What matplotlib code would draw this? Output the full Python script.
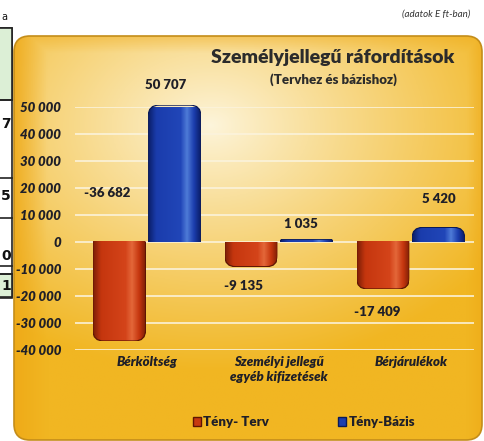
import numpy as np
import matplotlib
matplotlib.use("Agg")
import matplotlib.pyplot as plt
from matplotlib.patches import FancyBboxPatch, Rectangle, Patch
from matplotlib.colors import to_rgb, LinearSegmentedColormap

plt.rcParams['font.family'] = ['Lato', 'DejaVu Sans']

# data
categories = ['Bérköltség', 'Személyi jellegű\negyéb kifizetések', 'Bérjárulékok']
teny_terv = [-36682, -9135, -17409]
teny_bazis = [50707, 1035, 5420]
terv_labels = ['-36 682', '-9 135', '-17 409']
bazis_labels = ['50 707', '1 035', '5 420']
yticks = [-40000, -30000, -20000, -10000, 0, 10000, 20000, 30000, 40000, 50000]
ytick_labels = ['-40 000', '-30 000', '-20 000', '-10 000', '0', '10 000',
                '20 000', '30 000', '40 000', '50 000']
series_names = ['Tény- Terv', 'Tény-Bázis']

W, H = 484, 441
TXT = '#1f1f28'
fig = plt.figure(figsize=(W / 100, H / 100), dpi=100)

# background layer in pixel coordinates
bg = fig.add_axes([0, 0, 1, 1], zorder=0)
bg.set_xlim(0, W)
bg.set_ylim(H, 0)
bg.axis('off')

# left table fragment
bg.add_patch(Rectangle((-2, 28), 14, 270, facecolor='white', edgecolor='#222', lw=1.2))
for y0, y1 in [(28, 100), (274, 297)]:
    bg.add_patch(Rectangle((-2, y0), 14, y1 - y0, facecolor='#dcefd6', edgecolor='#222', lw=1.2))
for yl in [100, 178, 218, 266, 274]:
    bg.plot([-2, 12], [yl, yl], color='#222', lw=1.2)
for t, yy in [('7', 124), ('5', 196), ('0', 256), ('1', 286)]:
    bg.text(1, yy, t, fontsize=10, fontweight='bold', color='#111', va='center', ha='left',
            family='DejaVu Sans')
bg.text(1, 17, 'a', fontsize=7, color='#111', va='center', ha='left', family='DejaVu Sans')

# yellow panel with radial-ish gradient
px0, px1, py0, py1 = 14, 482, 36, 440
yy, xx = np.mgrid[0:1:220j, 0:1:220j]
pale = np.array(to_rgb('#fdf5dc'))
gold = np.array(to_rgb('#f1b622'))
d = np.sqrt(((xx - 0.42) / 1.0) ** 2 + ((yy - 0.22) / 0.85) ** 2)
t = np.clip(d / 0.72, 0, 1)[..., None] ** 0.9
img = pale * (1 - t) + gold * t
edge = np.array(to_rgb('#eea816'))
ew = np.clip(1 - xx / 0.07, 0, 1)[..., None] * 0.8 + np.clip(1 - (1 - xx) / 0.03, 0, 1)[..., None] * 0.5
ew = np.maximum(ew, np.clip(1 - yy / 0.04, 0, 1)[..., None] * 0.4)
img = img * (1 - ew) + edge * ew
panel = FancyBboxPatch((px0, py0), px1 - px0, py1 - py0,
                       boxstyle='round,pad=0,rounding_size=16',
                       facecolor='none', edgecolor='#c48d1a', lw=1.2, zorder=2)
bg.add_patch(panel)
im = bg.imshow(img, extent=(px0, px1, py1, py0), aspect='auto', zorder=1)
im.set_clip_path(panel)
bg.set_xlim(0, W)
bg.set_ylim(H, 0)

bg.text(470, 14, '(adatok E ft-ban)', fontsize=7, style='italic', color='#333',
        ha='right', va='center')
bg.text(333, 57, 'Személyjellegű ráfordítások', fontsize=14, fontweight='heavy',
        color='#2b2b2b', ha='center', va='center', zorder=3)
bg.text(333, 80, '(Tervhez és bázishoz)', fontsize=9.5, fontweight='heavy',
        color='#2b2b2b', ha='center', va='center', zorder=3)

# plot axes
ax_l, ax_r, ax_t, ax_b = 75, 474, 107, 350
ax = fig.add_axes([ax_l / W, 1 - ax_b / H, (ax_r - ax_l) / W, (ax_b - ax_t) / H], zorder=1)
ax.set_facecolor('none')
for s in ax.spines.values():
    s.set_visible(False)
xlim = (-0.545, 2.48)
ylim = (-40000, 50000)
ax.set_xlim(*xlim)
ax.set_ylim(*ylim)
ax.set_yticks(yticks)
ax.set_yticklabels(ytick_labels, fontsize=9.5, fontweight='heavy', style='italic', color=TXT)
ax.tick_params(axis='y', length=0, pad=10)
x = np.arange(len(categories))
ax.set_xticks(x)
ax.set_xticklabels(categories, fontsize=9.5, fontweight='heavy', style='italic',
                   color=TXT, linespacing=1.35)
ax.tick_params(axis='x', length=0, pad=4)
ax.grid(axis='y', color='#fbf3dc', lw=1.3, alpha=0.9)
ax.set_axisbelow(True)

bw = 0.40
b1 = ax.bar(x - 0.21, teny_terv, bw, color='#c73a10', alpha=0)
b2 = ax.bar(x + 0.21, teny_bazis, bw, color='#1c3fae', alpha=0)

tr = ax.transData
ppx = tr.transform((1, 0))[0] - tr.transform((0, 0))[0]
ppy = tr.transform((0, 1))[1] - tr.transform((0, 0))[1]


def cyl_cmap(dark, mid, light, hi):
    return LinearSegmentedColormap.from_list('c', [(0, dark), (0.15, mid), (0.62, light),
                                                   (0.74, hi), (0.88, mid), (1, dark)])


red_cmap = cyl_cmap('#7e1f06', '#c5360e', '#d4441a', '#e4683a')
blue_cmap = cyl_cmap('#0b1e68', '#1a3cac', '#2146b8', '#4f7cd8')


def round_bar(bar, cmap, edgec, r_px=11):
    x0, w = bar.get_x(), bar.get_width()
    y0, h = bar.get_y(), bar.get_height()
    lo, hi = min(y0, y0 + h), max(y0, y0 + h)
    hpx = abs(h) * ppy
    r = min(r_px, hpx, w * ppx / 2)
    rx, ry = r / ppx, r / ppy
    if h >= 0:
        box_y, box_h = lo - ry, (hi - lo) + ry
    else:
        box_y, box_h = lo, (hi - lo) + ry
    shape = FancyBboxPatch((x0, box_y), w, box_h,
                           boxstyle=f'round,pad=0,rounding_size={rx}',
                           mutation_aspect=ppx / ppy, transform=ax.transData)
    grad = np.linspace(0, 1, 64)[None, :]
    imb = ax.imshow(grad, cmap=cmap, extent=(x0, x0 + w, lo, hi), aspect='auto',
                    interpolation='bilinear', zorder=2)
    imb.set_clip_path(shape)
    outline = FancyBboxPatch((x0, box_y), w, box_h,
                             boxstyle=f'round,pad=0,rounding_size={rx}',
                             mutation_aspect=ppx / ppy, facecolor='none',
                             edgecolor=edgec, lw=0.9, zorder=3)
    ax.add_patch(outline)
    outline.set_clip_path(Rectangle((x0, lo), w, hi - lo, transform=ax.transData))


for b in b1:
    round_bar(b, red_cmap, '#5e1503')
for b in b2:
    round_bar(b, blue_cmap, '#0a1a58')
ax.set_xlim(*xlim)
ax.set_ylim(*ylim)

# value labels (offsets in pixels -> points)
k = 0.72
lab = dict(fontsize=9.5, fontweight='heavy', color=TXT, ha='center', va='center',
           textcoords='offset points', annotation_clip=False)
terv_off = [(-12, 49), (-8, -19), (-6, -23)]
for i, (b, v, s) in enumerate(zip(b1, teny_terv, terv_labels)):
    dx, dy = terv_off[i]
    cx = b.get_x() + b.get_width() / 2
    anchor = (cx, 0) if i == 0 else (cx, v)
    ax.annotate(s, anchor, xytext=(dx * k, dy * k), **lab)
bazis_off = [(-9, 20), (-6, 15), (0, 28)]
for b, v, s, (dx, dy) in zip(b2, teny_bazis, bazis_labels, bazis_off):
    cx = b.get_x() + b.get_width() / 2
    ax.annotate(s, (cx, v), xytext=(dx * k, dy * k), **lab)

handles = [Patch(facecolor='#c73a10', edgecolor='#5e1503'),
           Patch(facecolor='#1c3fae', edgecolor='#0a1a58')]
leg = fig.legend(handles, series_names, loc='center', ncol=2,
                 bbox_to_anchor=(304 / W, 1 - 422 / H), frameon=False,
                 prop={'weight': 'heavy', 'size': 9.5}, handlelength=0.6, handleheight=0.6,
                 handletextpad=0.2, columnspacing=5.2)
for txt in leg.get_texts():
    txt.set_color(TXT)

fig.savefig('out.png', dpi=100)
